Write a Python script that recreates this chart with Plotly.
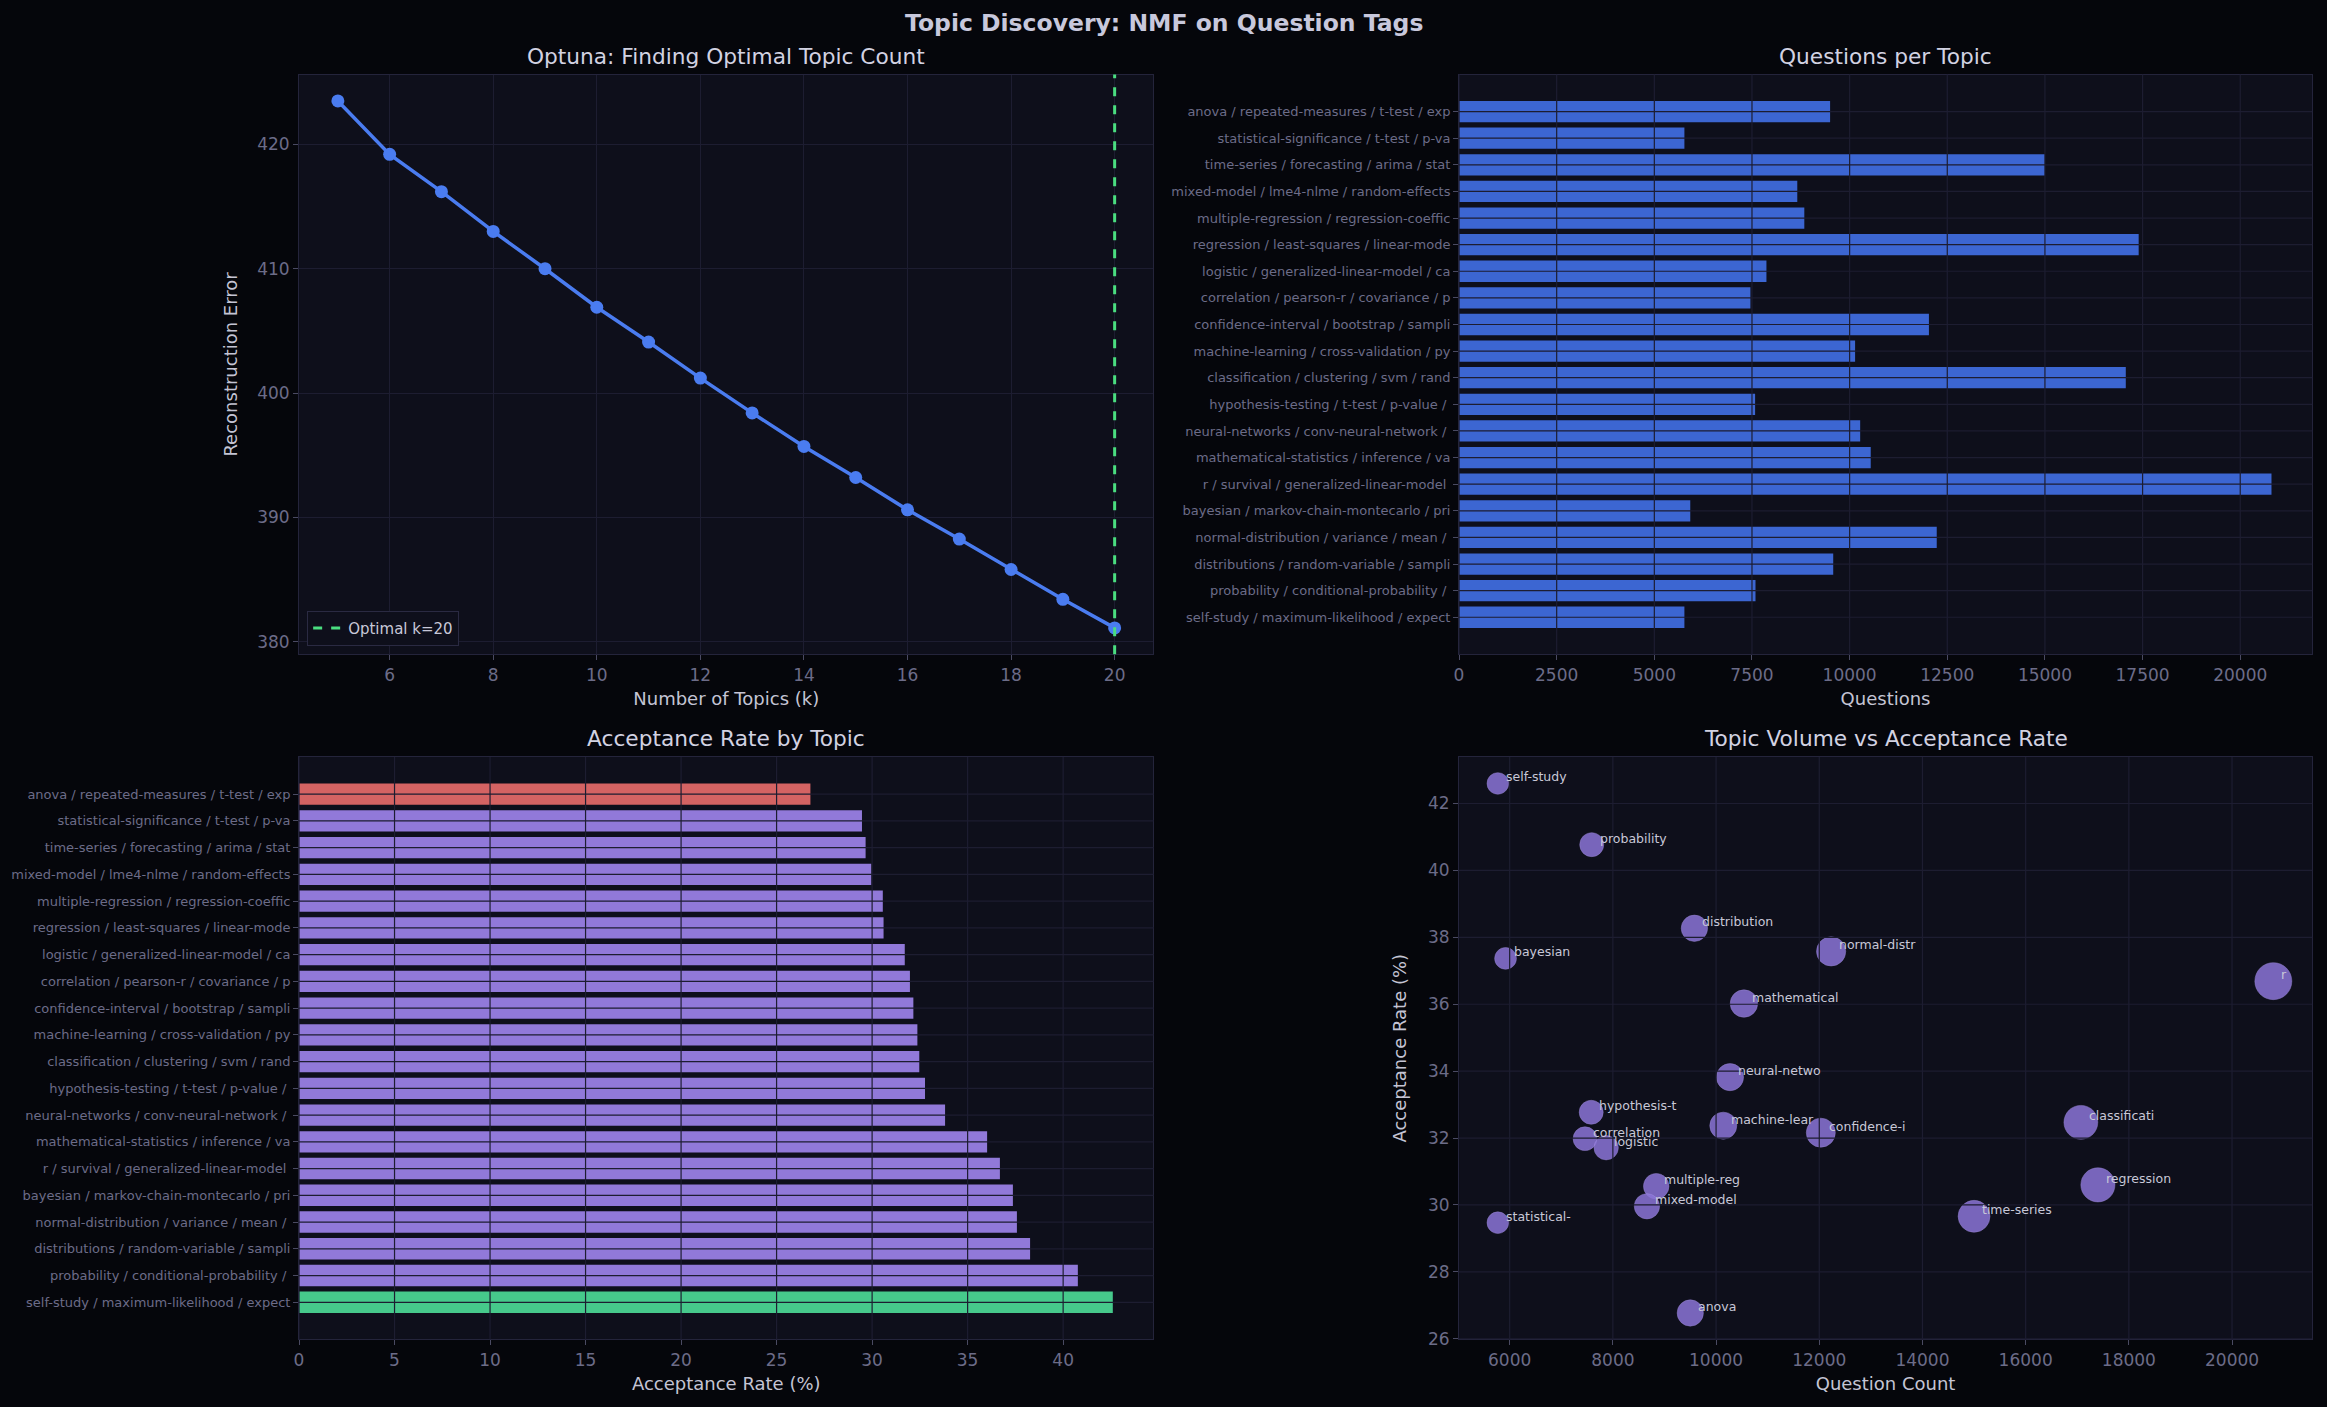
import numpy as np
import plotly.graph_objects as go

# --- data ------------------------------------------------------------------
k_values = list(range(5, 21))
recon_error = [423.5, 419.2, 416.2, 413.0, 410.0, 406.9, 404.1, 401.2,
               398.4, 395.7, 393.2, 390.6, 388.25, 385.8, 383.4, 381.1]

# topics listed bottom -> top (as drawn on the bar charts)
topic_labels = [
    "self-study / maximum-likelihood / expect",
    "probability / conditional-probability / ",
    "distributions / random-variable / sampli",
    "normal-distribution / variance / mean / ",
    "bayesian / markov-chain-montecarlo / pri",
    "r / survival / generalized-linear-model ",
    "mathematical-statistics / inference / va",
    "neural-networks / conv-neural-network / ",
    "hypothesis-testing / t-test / p-value / ",
    "classification / clustering / svm / rand",
    "machine-learning / cross-validation / py",
    "confidence-interval / bootstrap / sampli",
    "correlation / pearson-r / covariance / p",
    "logistic / generalized-linear-model / ca",
    "regression / least-squares / linear-mode",
    "multiple-regression / regression-coeffic",
    "mixed-model / lme4-nlme / random-effects",
    "time-series / forecasting / arima / stat",
    "statistical-significance / t-test / p-va",
    "anova / repeated-measures / t-test / exp",
]
short_names = [
    "self-study", "probability", "distribution", "normal-distr", "bayesian",
    "r", "mathematical", "neural-netwo", "hypothesis-t", "classificati",
    "machine-lear", "confidence-i", "correlation", "logistic", "regression",
    "multiple-reg", "mixed-model", "time-series", "statistical-", "anova",
]
question_counts = [5770, 7590, 9580, 12230, 5920, 20800, 10540, 10270, 7580, 17070,
                   10140, 12030, 7460, 7870, 17400, 8840, 8660, 15000, 5770, 9500]
acceptance_rate = [42.6, 40.77, 38.27, 37.58, 37.37, 36.69, 36.02, 33.82, 32.77, 32.47,
                   32.37, 32.16, 31.98, 31.71, 30.6, 30.56, 29.96, 29.66, 29.47, 26.77]

# --- styling ---------------------------------------------------------------
FONT = "DejaVu Sans"
FIG_BG = "#05060b"
AX_BG = "#0e0f1b"
GRID = "#1d1d31"
SPINE = "#24243b"
TICK_TXT = "#6c6c88"
LABEL_TXT = "#c4c4d4"
TITLE_TXT = "#d2d2e2"

LEFT = [0.1285, 0.4957]
RIGHT = [0.627, 0.9936]
TOP = [0.535, 0.947]
BOTTOM = [0.048, 0.462]


def padded(lo, hi, frac=0.05):
    span = hi - lo
    return [lo - span * frac, hi + span * frac]


def axis_style(**kw):
    d = dict(showline=True, mirror=True, linecolor=SPINE, linewidth=1,
             ticks="outside", ticklen=5, tickwidth=1, tickcolor="#4a4a62",
             tickfont=dict(family=FONT, size=17, color=TICK_TXT),
             showgrid=False, zeroline=False, automargin=False)
    d.update(kw)
    return d


def grid_above(fig, xa, ya, xvals=(), yvals=()):
    # matplotlib-style grid drawn on top of bars / bubbles
    for v in xvals:
        fig.add_shape(type="line", xref=xa, yref=ya + " domain", x0=v, x1=v, y0=0, y1=1,
                      line=dict(color=GRID, width=1.2), layer="above")
    for v in yvals:
        fig.add_shape(type="line", xref=xa + " domain", yref=ya, x0=0, x1=1, y0=v, y1=v,
                      line=dict(color=GRID, width=1.2), layer="above")


fig = go.Figure()

# --- 1. optuna search curve ------------------------------------------------
best_k = k_values[int(np.argmin(recon_error))]
fig.add_trace(go.Scatter(
    x=k_values, y=recon_error, mode="lines+markers",
    line=dict(color="#4a7cf0", width=3.5), marker=dict(size=13, color="#4a7cf0"),
    showlegend=False, xaxis="x", yaxis="y"))
fig.add_trace(go.Scatter(
    x=[None], y=[None], mode="lines", name=f"Optimal k={best_k}",
    line=dict(color="#4ade80", width=3, dash="dash"), xaxis="x", yaxis="y"))
fig.add_shape(type="line", xref="x", yref="y domain", x0=best_k, x1=best_k, y0=0, y1=1,
              line=dict(color="#4ade80", width=3, dash="dash"), layer="above")

# --- 2. questions per topic ------------------------------------------------
fig.add_trace(go.Bar(
    x=question_counts, y=topic_labels, orientation="h",
    marker=dict(color="#3c66d2", line=dict(width=0)),
    showlegend=False, xaxis="x2", yaxis="y2"))

# --- 3. acceptance rate by topic ---------------------------------------------
lo_i, hi_i = int(np.argmin(acceptance_rate)), int(np.argmax(acceptance_rate))
acc_colors = ["#9179d9"] * len(acceptance_rate)
acc_colors[lo_i] = "#d46363"
acc_colors[hi_i] = "#46c98b"
fig.add_trace(go.Bar(
    x=acceptance_rate, y=topic_labels, orientation="h",
    marker=dict(color=acc_colors, line=dict(width=0)),
    showlegend=False, xaxis="x3", yaxis="y3"))

# --- 4. volume vs acceptance -------------------------------------------------
sizes = 0.245 * np.sqrt(np.array(question_counts) + 2000)
fig.add_trace(go.Scatter(
    x=question_counts, y=acceptance_rate, mode="markers",
    marker=dict(size=sizes, sizemode="diameter", color="#8b75d7", opacity=0.85,
                line=dict(width=0.8, color="rgba(170,150,235,0.6)")),
    showlegend=False, xaxis="x4", yaxis="y4"))
for name, qx, ry in zip(short_names, question_counts, acceptance_rate):
    fig.add_annotation(x=qx, y=ry, xref="x4", yref="y4", text=name, showarrow=False,
                       xanchor="left", yanchor="bottom", xshift=6, yshift=-3,
                       font=dict(family=FONT, size=12.5, color="#c8c8d8"))

# --- axes ------------------------------------------------------------------
n = len(topic_labels)
cat_range = [-1.39, n - 1 + 1.39]
x_ticks_k = list(range(6, 21, 2))
y_ticks_err = [380, 390, 400, 410, 420]
q_ticks = list(range(0, 20001, 2500))
acc_ticks = list(range(0, 41, 5))
sx_ticks = list(range(6000, 20001, 2000))
sy_ticks = list(range(26, 43, 2))

title_font = dict(family=FONT, size=18, color=LABEL_TXT)
cat_font = dict(family=FONT, size=13, color=TICK_TXT)

fig.update_layout(
    xaxis=axis_style(domain=LEFT, anchor="y", range=padded(min(k_values), max(k_values)),
                     tickvals=x_ticks_k, showgrid=True, gridcolor=GRID,
                     title=dict(text="Number of Topics (k)", font=title_font, standoff=8)),
    yaxis=axis_style(domain=TOP, anchor="x", range=padded(min(recon_error), max(recon_error)),
                     tickvals=y_ticks_err, showgrid=True, gridcolor=GRID,
                     title=dict(text="Reconstruction Error", font=title_font, standoff=14)),
    xaxis2=axis_style(domain=RIGHT, anchor="y2", range=[0, max(question_counts) * 1.05],
                      tickvals=q_ticks, tickformat="d",
                      title=dict(text="Questions", font=title_font, standoff=8)),
    yaxis2=axis_style(domain=TOP, anchor="x2", type="category", range=cat_range,
                      tickfont=cat_font),
    xaxis3=axis_style(domain=LEFT, anchor="y3", range=[0, max(acceptance_rate) * 1.05],
                      tickvals=acc_ticks,
                      title=dict(text="Acceptance Rate (%)", font=title_font, standoff=8)),
    yaxis3=axis_style(domain=BOTTOM, anchor="x3", type="category", range=cat_range,
                      tickfont=cat_font),
    xaxis4=axis_style(domain=RIGHT, anchor="y4",
                      range=padded(min(question_counts), max(question_counts)),
                      tickvals=sx_ticks, tickformat="d",
                      title=dict(text="Question Count", font=title_font, standoff=8)),
    yaxis4=axis_style(domain=BOTTOM, anchor="x4",
                      range=padded(min(acceptance_rate), max(acceptance_rate)),
                      tickvals=sy_ticks,
                      title=dict(text="Acceptance Rate (%)", font=title_font, standoff=16)),
)

grid_above(fig, "x2", "y2", xvals=q_ticks, yvals=range(n))
grid_above(fig, "x3", "y3", xvals=acc_ticks, yvals=range(n))
grid_above(fig, "x4", "y4", xvals=sx_ticks, yvals=sy_ticks)

# --- titles ----------------------------------------------------------------
sub_titles = [
    ("Optuna: Finding Optimal Topic Count", LEFT, TOP),
    ("Questions per Topic", RIGHT, TOP),
    ("Acceptance Rate by Topic", LEFT, BOTTOM),
    ("Topic Volume vs Acceptance Rate", RIGHT, BOTTOM),
]
for text, dx, dy in sub_titles:
    fig.add_annotation(x=(dx[0] + dx[1]) / 2, y=dy[1], xref="paper", yref="paper",
                       text=text, showarrow=False, xanchor="center", yanchor="bottom",
                       yshift=4, font=dict(family=FONT, size=21.7, color=TITLE_TXT))

fig.add_annotation(x=0.5, y=0.984, xref="paper", yref="paper",
                   text="<b>Topic Discovery: NMF on Question Tags</b>", showarrow=False,
                   xanchor="center", yanchor="middle",
                   font=dict(family=FONT, size=23.5, color="#c8c8dc"))

fig.update_layout(
    width=2327, height=1407,
    margin=dict(l=0, r=0, t=0, b=0),
    paper_bgcolor=FIG_BG, plot_bgcolor=AX_BG,
    bargap=0.2,
    font=dict(family=FONT, color=TICK_TXT),
    legend=dict(x=0.132, y=0.541, xanchor="left", yanchor="bottom",
                bgcolor=AX_BG, bordercolor="#2a2a42", borderwidth=1,
                font=dict(family=FONT, size=15, color="#c8c8d8")),
)

fig.write_html("out.html",
               config={"displayModeBar": False},
               post_script="document.body.style.margin='0';"
                           "document.body.style.background='#05060b';")
